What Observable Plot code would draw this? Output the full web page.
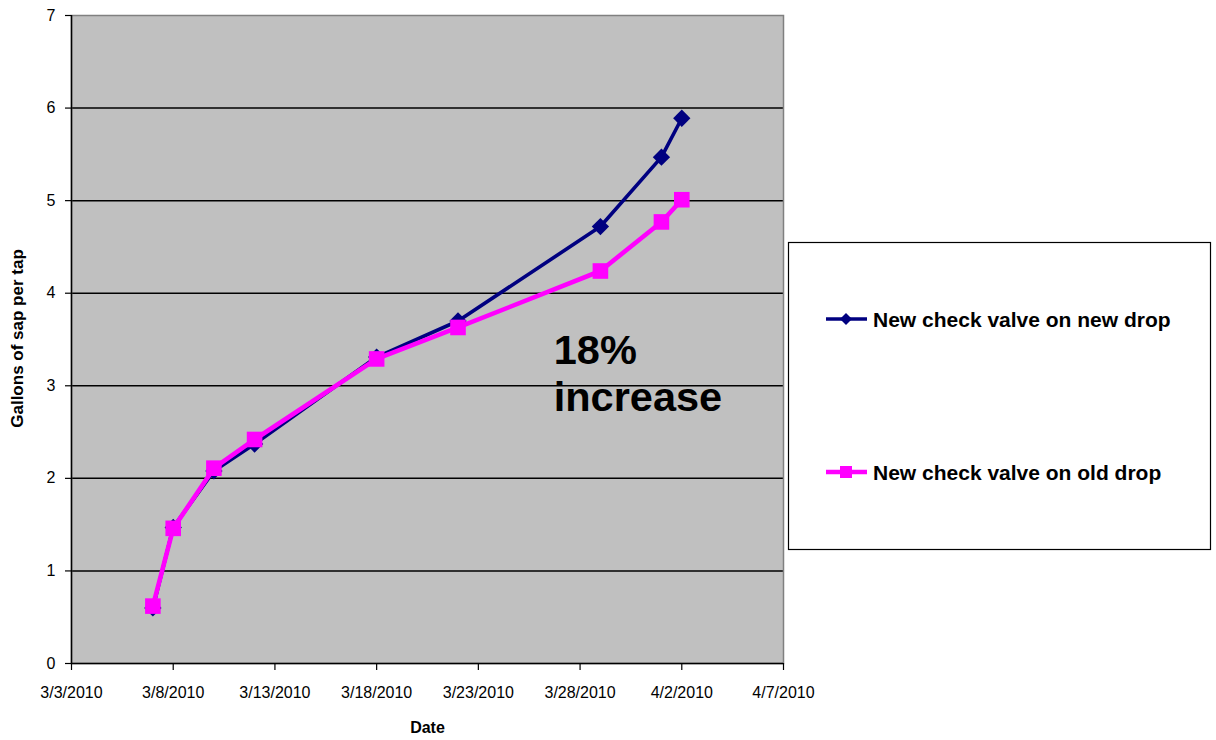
<!DOCTYPE html>
<html>
<head>
<meta charset="utf-8">
<script src="https://cdn.jsdelivr.net/npm/d3@7"></script>
<script src="https://cdn.jsdelivr.net/npm/@observablehq/plot@0.6"></script>
<style>
  html, body { margin: 0; padding: 0; background: #fff; }
  #chart { position: relative; width: 1216px; height: 740px; }
</style>
</head>
<body>
<div id="chart"></div>
<script>
// ---- data ----
const dates = ["2010-03-07","2010-03-08","2010-03-10","2010-03-12","2010-03-18","2010-03-22","2010-03-29","2010-04-01","2010-04-02"];
const newDrop = [0.60, 1.47, 2.08, 2.37, 3.31, 3.70, 4.72, 5.47, 5.89];
const oldDrop = [0.62, 1.46, 2.11, 2.42, 3.29, 3.63, 4.24, 4.77, 5.01];
const seriesNames = ["New check valve on new drop", "New check valve on old drop"];
const seriesColors = ["#000080", "#ff00ff"];
const xTicks = ["2010-03-03","2010-03-08","2010-03-13","2010-03-18","2010-03-23","2010-03-28","2010-04-02","2010-04-07"];
const yTicks = [0, 1, 2, 3, 4, 5, 6, 7];
const gridValues = [1, 2, 3, 4, 5, 6];
const annotation = [{date: "2010-03-27", value: 2.73, text: "18%\nincrease"}];

const rowsNew = dates.map((d, i) => ({date: new Date(d), value: newDrop[i]}));
const rowsOld = dates.map((d, i) => ({date: new Date(d), value: oldDrop[i]}));
const xTickDates = xTicks.map(d => new Date(d));
const fmt = d => `${d.getUTCMonth() + 1}/${d.getUTCDate()}/${d.getUTCFullYear()}`;
const FONT = "'Liberation Sans', Arial, sans-serif";

const plot = Plot.plot({
  width: 1216,
  height: 740,
  marginLeft: 71,
  marginRight: 433,
  marginTop: 15,
  marginBottom: 77,
  style: {fontFamily: FONT, background: "#fff", color: "#000"},
  x: {type: "utc", domain: [xTickDates[0], xTickDates[xTickDates.length - 1]]},
  y: {domain: [0, 7]},
  marks: [
    Plot.frame({fill: "#c0c0c0"}),
    Plot.ruleY(gridValues, {stroke: "#000", strokeWidth: 1.5}),
    Plot.frame({stroke: "#808080", strokeWidth: 1.5}),
    Plot.ruleY([0], {stroke: "#000", strokeWidth: 1.5}),
    Plot.ruleX([xTickDates[0]], {stroke: "#000", strokeWidth: 1.5}),
    Plot.axisY({ticks: yTicks, tickFormat: d => String(d), tickSize: 6, tickPadding: 10, fontSize: 16, label: null, strokeWidth: 1.2}),
    Plot.axisX({ticks: xTickDates, tickFormat: fmt, tickSize: 7, tickPadding: 16, fontSize: 16, label: null, strokeWidth: 1.2}),
    Plot.text(["Gallons of sap per tap"], {text: d => d, frameAnchor: "left", textAnchor: "middle", lineAnchor: "middle", rotate: -90, dx: -54, dy: -1, fontWeight: "bold", fontSize: 17}),
    Plot.text(["Date"], {text: d => d, frameAnchor: "bottom", textAnchor: "middle", dy: 69, fontWeight: "bold", fontSize: 16}),
    Plot.line(rowsNew, {x: "date", y: "value", stroke: seriesColors[0], strokeWidth: 3.6}),
    Plot.dot(rowsNew, {x: "date", y: "value", symbol: "diamond2", r: 7.8, fill: seriesColors[0], stroke: "none"}),
    Plot.line(rowsOld, {x: "date", y: "value", stroke: seriesColors[1], strokeWidth: 4.6}),
    Plot.dot(rowsOld, {x: "date", y: "value", symbol: "square", r: 8.8, fill: seriesColors[1], stroke: "none"}),
    Plot.text(annotation, {x: d => new Date(d.date), y: "value", text: "text", textAnchor: "start", lineAnchor: "bottom", lineHeight: 1.12, dx: -6, fontSize: 41.5, fontWeight: "bold", fill: "#000"})
  ]
});

document.getElementById("chart").appendChild(plot);

// ---- legend (drawn into the same SVG) ----
const svg = d3.select(plot);
const lg = svg.append("g").attr("font-family", FONT).attr("text-anchor", "start");
lg.append("rect").attr("x", 788.5).attr("y", 242.5).attr("width", 422).attr("height", 307)
  .attr("fill", "#fff").attr("stroke", "#000").attr("stroke-width", 1.2);
const legendY = [319, 472];
seriesNames.forEach((name, i) => {
  const g = lg.append("g").attr("transform", `translate(0,${legendY[i]})`);
  g.append("line").attr("x1", 826).attr("x2", 867).attr("y1", 0).attr("y2", 0)
    .attr("stroke", seriesColors[i]).attr("stroke-width", i === 0 ? 3.5 : 4.5);
  if (i === 0) {
    g.append("path").attr("d", "M846,-6L852,0L846,6L840,0Z").attr("fill", seriesColors[i]);
  } else {
    g.append("rect").attr("x", 840).attr("y", -6).attr("width", 12).attr("height", 12).attr("fill", seriesColors[i]);
  }
  g.append("text").attr("x", 873).attr("y", 0).attr("dy", "0.36em").attr("text-anchor", "start")
    .attr("font-size", 21).attr("font-weight", "bold").attr("fill", "#000").text(name);
});
</script>
</body>
</html>
